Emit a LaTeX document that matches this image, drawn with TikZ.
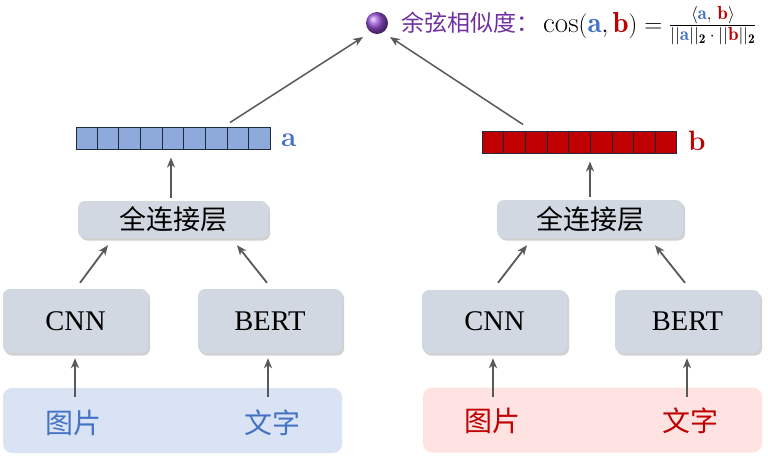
\documentclass[tikz,border=0pt]{standalone}
\usepackage{fontspec}
\usepackage{amsmath}
\newfontfamily\cjk{Noto Sans CJK SC}
\newfontfamily\boxfont{Liberation Serif}
\usetikzlibrary{shadows,arrows.meta,calc,shadings}
\definecolor{boxfill}{HTML}{D2D8E1}
\definecolor{vecblue}{HTML}{8EAADB}
\definecolor{vecred}{HTML}{C00000}
\definecolor{ablue}{HTML}{4472C4}
\definecolor{bred}{HTML}{C00000}
\definecolor{regblue}{HTML}{DAE3F3}
\definecolor{regpink}{HTML}{FFE3E3}
\definecolor{arrgray}{HTML}{595959}
\definecolor{ballpurple}{HTML}{7030A0}
\definecolor{ballshade}{HTML}{9A4FD6}
\definecolor{vecline}{HTML}{1F2A3C}
\begin{document}
\begin{tikzpicture}[x=1pt,y=-1pt,
  boxstyle/.style={rounded corners=7pt,fill=boxfill,inner sep=0pt,
    drop shadow={shadow xshift=2pt,shadow yshift=-2.5pt,opacity=0.45,fill=gray!80},
    font=\fontsize{28.5}{32}\selectfont\boxfont},
  vecbox/.style={draw=vecline,line width=1pt,minimum width=194pt,minimum height=22pt,inner sep=0pt},
  region/.style={rounded corners=9pt,inner sep=0pt,minimum width=339pt,minimum height=65pt},
  arr/.style={draw=arrgray,line width=1.8pt,-{Stealth[length=10pt,width=8pt,inset=3pt]}},
  inlabel/.style={font=\fontsize{28}{32}\selectfont\cjk},
  veclabel/.style={font=\fontsize{28}{32}\selectfont\bfseries,inner sep=0pt,anchor=base west}
]
\useasboundingbox (0,0) rectangle (768,459);

% regions
\node[region,fill=regblue] (regL) at (172.5,420.5) {};
\node[region,fill=regpink] (regR) at (592.5,420) {};
\node[inlabel,text=ablue] (imgL) at (73,423) {图片};
\node[inlabel,text=ablue] (txtL) at (272,423) {文字};
\node[inlabel,text=bred] (imgR) at (492,421) {图片};
\node[inlabel,text=bred] (txtR) at (690,421) {文字};

% encoders
\node[boxstyle,minimum width=145pt,minimum height=64pt] (cnnL) at (75.5,321) {CNN};
\node[boxstyle,minimum width=144pt,minimum height=64pt] (bertL) at (270,321) {BERT};
\node[boxstyle,minimum width=145pt,minimum height=63pt] (cnnR) at (494.5,321.5) {CNN};
\node[boxstyle,minimum width=145pt,minimum height=63pt] (bertR) at (687.5,321.5) {BERT};

% fully connected
\node[boxstyle,minimum width=190pt,minimum height=37pt,font=\fontsize{27}{30}\selectfont\cjk] (fcL) at (173,219.5) {全连接层};
\node[boxstyle,minimum width=186pt,minimum height=38pt,font=\fontsize{27}{30}\selectfont\cjk] (fcR) at (590,219) {全连接层};

% vectors
\node[vecbox,fill=vecblue] (vecA) at (173,138) {};
\node[vecbox,fill=vecred] (vecB) at (579.5,142) {};
\foreach \v in {vecA,vecB}{
  \foreach \i in {1,...,8}{
    \draw[vecline,line width=0.8pt] ($(\v.north west)!\i/9!(\v.north east)$) -- ($(\v.south west)!\i/9!(\v.south east)$);
  }
}
\node[veclabel,text=ablue] (la) at (281,146) {a};
\node[veclabel,text=bred] (lb) at (688,150) {b};

% ball and formula
\node[circle,minimum size=22pt,inner sep=0pt,shading=ball,ball color=ballshade] (ball) at (377,23) {};
\node[anchor=west,inner sep=0pt,text=ballpurple,font=\fontsize{23}{26}\selectfont\cjk] (sim) at (401,23) {余弦相似度：};
\node[anchor=base west,inner sep=0pt,font=\fontsize{29}{34}\selectfont] (formula) at (543,32)
  {$\cos(\mathbf{\color{ablue}a},\mathbf{\color{bred}b})=\frac{\mbox{\fontsize{19}{22}\selectfont$\langle\mathbf{\color{ablue}a},\,\mathbf{\color{bred}b}\rangle$}}{\mbox{\fontsize{19}{22}\selectfont$\lvert\lvert\mathbf{\color{ablue}a}\rvert\rvert_{\mathbf{2}}\cdot\lvert\lvert\mathbf{\color{bred}b}\rvert\rvert_{\mathbf{2}}$}}$};

% input arrows
\coordinate (inL1) at (75,397);
\coordinate (inL2) at (268,397);
\coordinate (inR1) at (493,397);
\coordinate (inR2) at (687,397);
\draw[arr,shorten >=5pt] (inL1) -- (inL1 |- cnnL.south);
\draw[arr,shorten >=5pt] (inL2) -- (inL2 |- bertL.south);
\draw[arr,shorten >=5pt] (inR1) -- (inR1 |- cnnR.south);
\draw[arr,shorten >=5pt] (inR2) -- (inR2 |- bertR.south);

% encoder -> fc
\draw[arr] ([xshift=4.5pt,yshift=6pt]cnnL.north) -- ([xshift=-65pt,yshift=-7pt]fcL.south);
\draw[arr] ([xshift=-3pt,yshift=6pt]bertL.north) -- ([xshift=64pt,yshift=-7pt]fcL.south);
\draw[arr] ([xshift=3.5pt,yshift=7pt]cnnR.north) -- ([xshift=-63pt,yshift=-7pt]fcR.south);
\draw[arr] ([xshift=-2.5pt,yshift=7pt]bertR.north) -- ([xshift=65pt,yshift=-7pt]fcR.south);

% fc -> vector
\draw[arr,shorten <=3pt,shorten >=8pt] ([xshift=-2pt]fcL.north) -- ([xshift=-2pt]vecA.south);
\draw[arr,shorten <=3pt,shorten >=8pt] (fcR.north) -- (fcR.north |- vecB.south);

% vector -> ball
\draw[arr,line width=1.5pt] ([xshift=57pt,yshift=4pt]vecA.north) -- ([xshift=-14pt,yshift=-14pt]ball.center);
\draw[arr,line width=1.5pt] ([xshift=-56.5pt,yshift=6pt]vecB.north) -- ([xshift=13pt,yshift=-14pt]ball.center);
\end{tikzpicture}
\end{document}
